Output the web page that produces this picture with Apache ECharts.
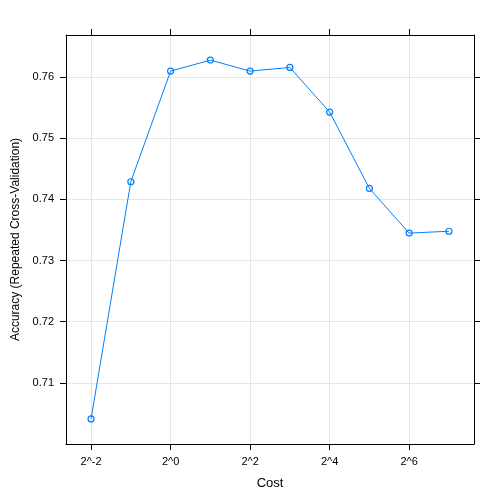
<!DOCTYPE html>
<html>
<head>
<meta charset="utf-8">
<script src="https://cdn.jsdelivr.net/npm/echarts@6/dist/echarts.min.js"></script>
<style>html,body{margin:0;padding:0;background:#fff}#c{width:504px;height:504px}</style>
</head>
<body>
<div id="c"></div>
<script>
const cost = [0.25, 0.5, 1, 2, 4, 8, 16, 32, 64, 128];
const accuracy = [0.7041, 0.7429, 0.7610, 0.7628, 0.7610, 0.7616, 0.7543, 0.7418, 0.7345, 0.7348];
const xTickValues = [0.25, 1, 4, 16, 64];
const xTickLabels = ['2^-2', '2^0', '2^2', '2^4', '2^6'];
const yTickValues = [0.71, 0.72, 0.73, 0.74, 0.75, 0.76];
const yTickLabels = ['0.71', '0.72', '0.73', '0.74', '0.75', '0.76'];

const lx = cost.map(v => Math.log2(v));
const lxMin = Math.min(...lx), lxMax = Math.max(...lx);
const xpad = 0.07 * (lxMax - lxMin);
const yMinD = Math.min(...accuracy), yMaxD = Math.max(...accuracy);
const ypad = 0.07 * (yMaxD - yMinD);

const font = 'Liberation Sans, Arial, sans-serif';
const xLabelMap = {};
xTickValues.forEach((v, i) => xLabelMap[v] = xTickLabels[i]);
const yLabelMap = {};
yTickValues.forEach((v, i) => yLabelMap[v.toFixed(2)] = yTickLabels[i]);

const common = {
  axisLine: { show: true, lineStyle: { color: '#000', width: 1 } },
  axisTick: { show: true, inside: false, length: 6, lineStyle: { color: '#000', width: 1 } },
};

const chart = echarts.init(document.getElementById('c'), null, { renderer: 'canvas' });
chart.setOption({
  backgroundColor: '#fff',
  animation: false,
  grid: { left: 66, top: 35, right: 30, bottom: 60, containLabel: false },
  xAxis: [{
    type: 'log', logBase: 2, position: 'bottom',
    min: Math.pow(2, lxMin - xpad), max: Math.pow(2, lxMax + xpad),
    name: 'Cost', nameLocation: 'middle', nameGap: 33,
    nameTextStyle: { color: '#000', fontSize: 13, fontFamily: font },
    axisLine: common.axisLine,
    axisTick: Object.assign({}, common.axisTick, { customValues: xTickValues }),
    axisLabel: { customValues: xTickValues, color: '#000', fontSize: 11, fontFamily: font, margin: 12,
      formatter: v => { for (const k of xTickValues) if (Math.abs(k - v) < 1e-9) return xLabelMap[k]; return ''; } },
    splitLine: { show: true, customValues: xTickValues, lineStyle: { color: '#e6e6e6', width: 1 } }
  }, {
    type: 'log', logBase: 2, position: 'top',
    min: Math.pow(2, lxMin - xpad), max: Math.pow(2, lxMax + xpad),
    axisLine: common.axisLine,
    axisTick: Object.assign({}, common.axisTick, { customValues: xTickValues }),
    axisLabel: { show: false },
    splitLine: { show: false }
  }],
  yAxis: [{
    type: 'value', position: 'left',
    min: yMinD - ypad, max: yMaxD + ypad,
    name: 'Accuracy (Repeated Cross-Validation)', nameLocation: 'middle', nameGap: 43, nameRotate: 90,
    nameTextStyle: { color: '#000', fontSize: 12, fontFamily: font },
    axisLine: common.axisLine,
    axisTick: Object.assign({}, common.axisTick, { customValues: yTickValues }),
    axisLabel: { customValues: yTickValues, color: '#000', fontSize: 11, fontFamily: font, margin: 12,
      formatter: v => yLabelMap[v.toFixed(2)] || '' },
    splitLine: { show: true, customValues: yTickValues, lineStyle: { color: '#e6e6e6', width: 1 } }
  }, {
    type: 'value', position: 'right',
    min: yMinD - ypad, max: yMaxD + ypad,
    axisLine: common.axisLine,
    axisTick: Object.assign({}, common.axisTick, { customValues: yTickValues }),
    axisLabel: { show: false },
    splitLine: { show: false }
  }],
  series: [{
    type: 'line',
    xAxisIndex: 0, yAxisIndex: 0,
    data: cost.map((c, i) => [c, accuracy[i]]),
    symbol: 'circle', symbolSize: 6, showAllSymbol: true,
    itemStyle: { color: 'rgba(255,255,255,0)', borderColor: '#0080ff', borderWidth: 1.2 },
    lineStyle: { color: '#0080ff', width: 1 },
    emphasis: { disabled: true }
  }]
});
</script>
</body>
</html>
